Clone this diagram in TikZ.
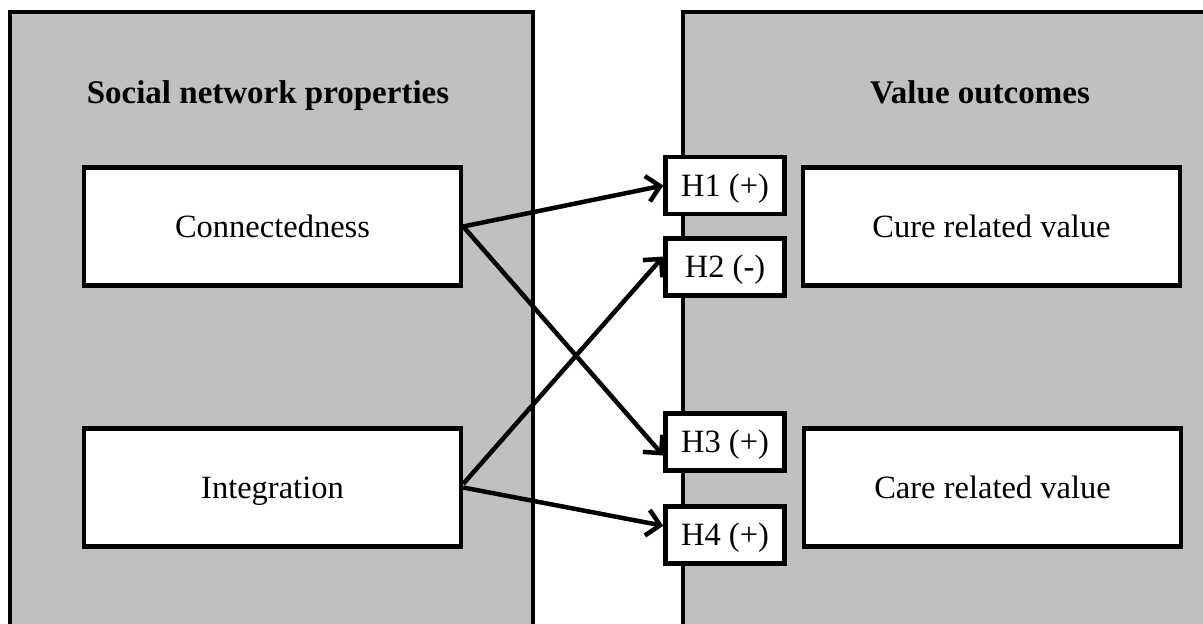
\documentclass[tikz,border=0pt]{standalone}
\usepackage{fontspec}
\setmainfont{Liberation Serif}
\usetikzlibrary{arrows.meta,calc}
\definecolor{panelgray}{RGB}{192,192,192}
\begin{document}
\begin{tikzpicture}[x=1pt,y=-1pt,
  panel/.style={draw=black,line width=3.5pt,fill=panelgray},
  txt/.style={font=\fontsize{32.5}{36}\selectfont,text height=21.5pt,text depth=0pt},
  varbox/.style={txt,draw=black,line width=4.5pt,fill=white,inner sep=0pt,minimum width=377pt,minimum height=118pt},
  hbox/.style={txt,draw=black,line width=4.5pt,fill=white,inner sep=0pt,minimum width=119pt,minimum height=57pt},
  title/.style={txt,font=\bfseries\fontsize{33}{36}\selectfont},
  link/.style={line width=4.5pt,-{Straight Barb[length=13pt,width=26pt,line width=4.5pt]}}]
\useasboundingbox (0,0) rectangle (1203,624);
\fill[white] (0,0) rectangle (1203,624);
\begin{scope}
\clip (0,0) rectangle (1203,624);
\draw[panel] (10,12) rectangle (533,650);
\draw[panel] (683,12) rectangle (1230,650);
\end{scope}
\node[title] (t1) at (268,93) {Social network properties};
\node[title] (t2) at (980,93) {Value outcomes};
\node[varbox] (con) at (272.5,226.5) {Connectedness};
\node[varbox] (int) at (272.5,487.5) {Integration};
\node[varbox] (cure) at (991.5,226.5) {Cure related value};
\node[varbox] (care) at (992.5,487.5) {Care related value};
\node[hbox] (h1) at (725,185.5) {H1 (+)};
\node[hbox] (h2) at (725,267) {H2 (-)};
\node[hbox] (h3) at (725,442) {H3 (+)};
\node[hbox] (h4) at (725,535) {H4 (+)};
\draw[link] (con.east) -- (h1.west);
\draw[link] (con.east) -- ($(h3.north west)!0.72!(h3.south west)$);
\draw[link] ($(int.north east)!0.47!(int.south east)$) -- ($(h2.north west)!0.33!(h2.south west)$);
\draw[link] (int.east) -- ($(h4.north west)!0.35!(h4.south west)$);
\end{tikzpicture}
\end{document}
